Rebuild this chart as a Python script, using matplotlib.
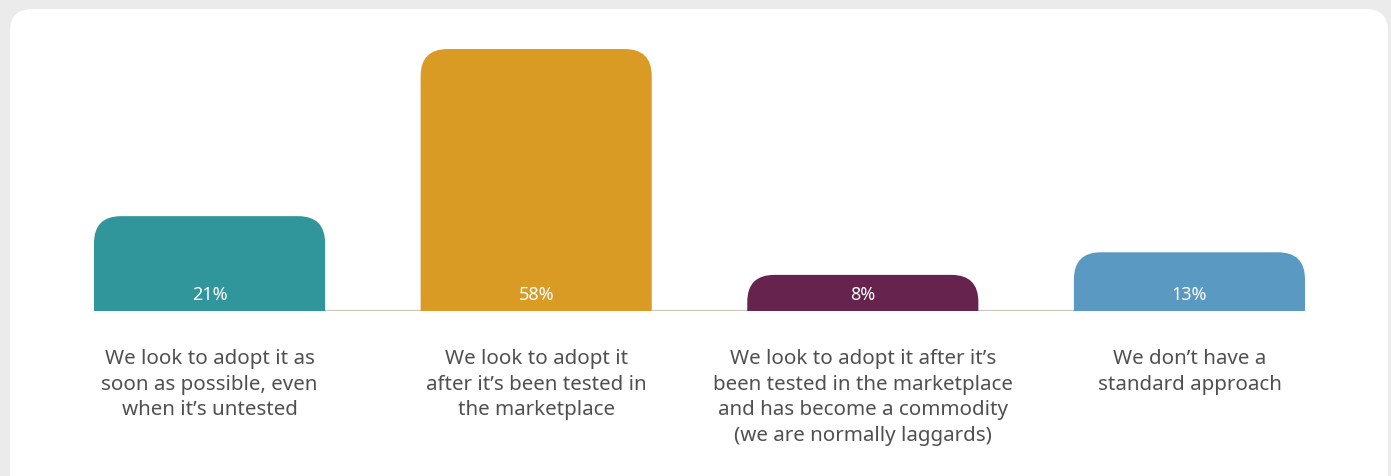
import matplotlib.pyplot as plt
from matplotlib.patches import FancyBboxPatch
from matplotlib.transforms import offset_copy

plt.rcParams['font.family'] = ['Noto Sans', 'DejaVu Sans']

categorie = [
    "We look to adopt it as\nsoon as possible, even\nwhen it\u2019s untested",
    "We look to adopt it\nafter it\u2019s been tested in\nthe marketplace",
    "We look to adopt it after it\u2019s\nbeen tested in the marketplace\nand has become a commodity\n(we are normally laggards)",
    "We don\u2019t have a\nstandard approach",
]
percentuali = [21, 58, 8, 13]
colori = ["#31959c", "#da9b25", "#66234e", "#5a99c2"]

W, H = 1391, 477
fig = plt.figure(figsize=(W / 100, H / 100), dpi=100)
fig.patch.set_facecolor("#ebebeb")

# card bianca con angoli arrotondati (sotto il bordo inferiore)
card = FancyBboxPatch((10 / W, -40 / H), 1378 / W, (H - 10 + 40) / H,
                      boxstyle="round,pad=0,rounding_size=0.016",
                      mutation_aspect=W / H,
                      transform=fig.transFigure, facecolor="white",
                      edgecolor="none", zorder=-10)
fig.patches.append(card)

ax = fig.add_axes([94 / W, (H - 312) / H, 1211 / W, 271 / H])
ax.set_zorder(1)
ax.set_facecolor("none")
for s in ax.spines.values():
    s.set_visible(False)
ax.set_xticks([])
ax.set_yticks([])

larghezza = 0.7075
ax.set_xlim(-larghezza / 2, 3 + larghezza / 2)
ax.set_ylim(0, 60)

# raggio degli angoli in data units (stesso raggio in pixel su x e y)
raggio_px = 27
px_x = 1211 / (3 + larghezza)
px_y = 271 / 60
rx = raggio_px / px_x
ry = raggio_px / px_y

for i, (v, c) in enumerate(zip(percentuali, colori)):
    # gli angoli inferiori finiscono sotto lo zero e vengono tagliati
    barra = FancyBboxPatch((i - larghezza / 2, -ry), larghezza, v + ry,
                           boxstyle="round,pad=0,rounding_size=%f" % rx,
                           mutation_aspect=ry / rx,
                           facecolor=c, edgecolor="none", zorder=2)
    ax.add_patch(barra)
    t = offset_copy(ax.transData, fig=fig, x=0, y=17 * 0.72, units="points")
    ax.text(i, 0, "%d%%" % v, transform=t, ha="center", va="center",
            color="white", fontsize=13, zorder=3)
    tl = offset_copy(ax.transData, fig=fig, x=0, y=-37 * 0.72, units="points")
    ax.text(i, 0, categorie[i], transform=tl, ha="center", va="top",
            color="#505050", fontsize=14.8, linespacing=1.38, clip_on=False)

ax.axhline(0, color="#ccc8bd", linewidth=1.6, zorder=1)

fig.savefig("out.png", dpi=100, facecolor=fig.get_facecolor())
